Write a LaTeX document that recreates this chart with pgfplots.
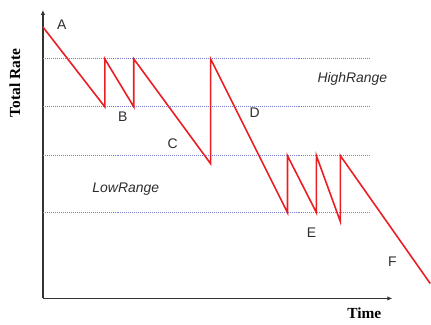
\documentclass[border=0pt]{standalone}
\usepackage{pgfplots}
\pgfplotsset{compat=1.18}
\usetikzlibrary{arrows.meta}
\usepackage{fontspec}
\setmainfont{Liberation Serif}
\newfontfamily\arial{Liberation Sans}
\definecolor{redline}{RGB}{235,30,35}
\definecolor{bluedot}{RGB}{120,125,205}
\definecolor{txt}{RGB}{45,45,45}
\begin{document}
\begin{tikzpicture}
\begin{axis}[
  scale only axis, width=350bp, height=289bp,
  xmin=0, xmax=350, ymin=0, ymax=289,
  axis lines=left,
  axis line style={line width=1.8pt, color=black!80, -{Latex[length=5pt,width=4.5pt]}},
  xtick=\empty, ytick=\empty,
  clip=false,
]
\path (axis cs:-43,-26) rectangle (axis cs:388,299);
% range lines
\addplot[bluedot, densely dotted, line width=1pt] coordinates {(0,240) (327,240)};
\addplot[bluedot, densely dotted, line width=1pt] coordinates {(0,192) (327,192)};
\addplot[bluedot, densely dotted, line width=1pt] coordinates {(0,143) (327,143)};
\addplot[bluedot, densely dotted, line width=1pt] coordinates {(0,86) (327,86)};
% total rate
\addplot[redline, line width=1.6pt, line join=miter] coordinates {
 (0,272) (62,192) (62,240) (91,192) (91,240) (168,135) (168,240)
 (245,86) (245,143) (274,86) (274,143) (298,77) (298,143) (388,15)};
\begin{scope}[every node/.style={font=\arial\fontsize{14}{16}\selectfont, text=txt}]
\node at (axis cs:19,274) {A};
\node at (axis cs:80,182) {B};
\node at (axis cs:130,155) {C};
\node at (axis cs:212,186) {D};
\node at (axis cs:269,66) {E};
\node at (axis cs:350,37) {F};
\node at (axis cs:310,220) {\itshape HighRange};
\node at (axis cs:83,109) {\itshape LowRange};
\end{scope}
\node[font=\bfseries\fontsize{15.5}{17}\selectfont] at (axis cs:322,-15) {Time};
\node[font=\bfseries\fontsize{15.5}{17}\selectfont, rotate=90] at (axis cs:-28,216) {Total Rate};
\end{axis}
\end{tikzpicture}
\end{document}
